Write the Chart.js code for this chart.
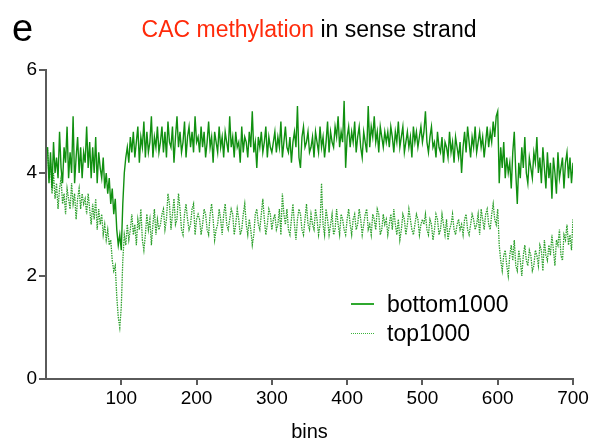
<!DOCTYPE html>
<html lang="en">
    <head>
        <meta charset="UTF-8">
        <title>CAC methylation</title>
        <style>
            body { margin: 0; background: #fff; font-family: "Liberation Sans", Arial, sans-serif; }
            #wrap { position: relative; width: 597px; height: 447px; }
            #panel { position: absolute; left: 12px; top: 7px; font-size: 38px; line-height: 1.117; color: #000; }
            #title { position: absolute; left: 0; width: 618px; top: 17px; text-align: center; font-size: 23px; line-height: 1.117; color: #000; }
            #title .red { color: #ff2a0a; }
            .leg { position: absolute; left: 387px; font-size: 23px; line-height: 1.117; color: #000; }
            .sample { position: absolute; left: 351px; width: 23px; height: 0; }
        </style>
    </head>
    <body>
        <div id="wrap">
            <canvas id="myChart" width="597" height="447"></canvas>
            <div id="panel">e</div>
            <div id="title"><span class="red">CAC methylation</span> in sense strand</div>
            <div class="sample" style="top:303px; border-top:2px solid #2fa82f"></div>
            <div class="leg" style="top:292px">bottom1000</div>
            <div class="sample" style="top:333px; border-top:1px dotted #3cb43c"></div>
            <div class="leg" style="top:321px">top1000</div>
        </div>
        <script src="https://cdn.jsdelivr.net/npm/chart.js@4.4.0/dist/chart.umd.min.js"></script>
        <script>
            // values every 2 bins (2, 4, ... 700)
            var bottom1000 = [
                4.5,3.8,4.4,3.7,4.6,4.0,4.3,3.9,4.8,4.1,3.8,4.5,4.2,4.9,3.9,4.4,4.0,5.1,3.8,4.3,4.7,4.0,4.5,3.9,4.4,
                4.2,4.9,4.1,4.6,3.9,4.5,4.0,4.7,3.8,4.4,4.1,3.9,4.3,3.7,4.0,3.6,3.9,3.4,3.7,3.2,3.5,2.9,2.6,2.8,2.5,
                3.4,4.0,4.3,4.5,4.2,4.7,4.4,4.8,4.3,4.6,4.9,4.2,4.7,4.5,5.0,4.3,4.8,4.4,4.6,5.1,4.3,4.7,4.5,4.9,4.4,
                4.6,4.9,4.4,4.8,4.3,5.0,4.6,4.5,4.9,4.2,4.7,5.1,4.5,4.8,4.4,4.6,5.0,4.3,4.7,4.9,4.5,4.8,4.4,5.1,4.6,
                4.7,4.4,4.9,4.5,4.8,4.3,4.6,5.0,4.5,4.7,4.2,4.8,4.6,4.4,4.9,4.5,4.7,4.3,4.8,4.6,4.4,5.1,4.5,4.7,4.3,
                4.8,4.5,4.6,4.2,4.9,4.4,4.7,4.6,4.3,4.8,4.5,5.2,4.4,4.6,4.1,4.7,4.5,4.8,4.4,4.6,4.9,4.3,4.7,4.5,4.4,
                4.6,4.8,4.4,4.7,4.5,5.0,4.3,4.6,4.9,4.5,4.4,4.7,4.2,4.6,4.8,4.5,5.3,4.3,4.1,4.7,4.9,4.5,4.6,4.8,4.4,
                4.5,4.7,4.3,4.8,4.6,4.4,4.9,4.5,4.7,4.3,4.6,5.0,4.4,4.8,4.6,4.5,4.9,4.7,5.1,4.5,4.8,4.6,5.4,4.1,4.7,
                4.9,4.5,4.8,4.6,5.0,4.4,4.7,4.9,4.5,4.3,4.8,4.6,4.4,5.3,4.5,4.9,4.7,5.1,4.6,4.8,4.4,4.9,4.7,4.5,4.8,
                4.6,4.8,4.5,4.9,4.7,4.4,4.8,4.6,5.0,4.5,4.7,4.9,4.4,4.6,4.8,4.5,4.7,4.3,4.9,4.6,4.8,4.5,4.7,4.9,4.6,
                4.8,5.2,4.6,4.4,4.7,4.9,4.5,4.6,4.3,4.8,4.5,4.4,4.7,4.2,4.6,4.5,4.3,4.8,4.4,4.6,4.2,4.7,4.5,4.3,4.6,
                4.0,4.5,4.8,4.4,4.9,4.6,4.3,4.7,4.5,4.9,4.4,4.6,4.8,4.5,4.7,4.3,4.6,4.9,4.5,4.8,4.6,5.0,4.7,5.1,5.2,
                3.8,4.5,4.1,4.6,3.9,4.3,4.0,4.2,3.7,4.4,4.8,4.0,3.4,4.2,3.9,4.5,4.1,4.7,4.0,3.8,4.3,4.1,3.9,4.4,4.2,
                4.7,4.0,4.3,3.8,4.5,4.1,3.7,4.4,3.9,4.2,3.5,4.3,4.0,3.6,4.4,3.9,4.1,4.3,3.7,4.2,4.4,3.9,4.3,3.8,4.2
            ];
            var top1000 = [
                4.5,3.9,4.2,3.6,4.0,3.5,3.8,3.3,3.7,3.9,3.4,3.6,3.2,3.7,3.5,3.3,3.8,3.4,3.6,3.1,3.5,3.7,3.3,3.6,3.4,
                3.5,3.2,3.6,3.3,3.0,3.4,3.1,3.5,2.9,3.3,3.0,3.2,2.8,3.0,2.7,2.9,2.6,2.7,2.3,2.1,2.2,1.6,1.2,1.0,1.4,
                2.3,2.8,2.6,3.0,2.7,2.9,3.2,2.8,3.0,2.6,3.1,2.9,3.3,2.7,2.5,2.8,3.2,2.9,3.1,2.6,3.0,3.3,2.8,3.1,2.9,
                3.0,3.2,3.3,2.9,3.1,3.6,3.4,2.9,3.2,3.5,3.0,3.1,3.6,3.3,2.9,2.8,3.2,3.4,3.1,2.9,3.0,3.3,3.4,2.8,3.1,
                3.2,3.1,2.8,3.0,3.3,3.2,2.9,2.8,3.2,3.4,3.1,2.7,2.9,3.0,3.3,3.1,2.8,3.2,3.4,3.0,2.9,3.1,3.3,3.2,2.8,
                3.0,3.3,3.1,2.8,2.9,3.2,3.4,3.0,2.8,3.1,2.9,2.6,2.8,3.2,3.3,3.0,2.9,3.2,3.5,3.1,2.8,3.0,3.3,3.2,2.9,
                3.1,3.2,2.9,3.0,3.3,2.8,3.6,3.2,3.0,3.3,2.9,2.8,3.1,3.4,3.0,2.7,3.1,3.3,3.2,2.9,2.8,3.1,3.4,3.0,2.9,
                3.2,3.0,2.9,3.3,3.1,2.8,3.0,3.8,3.0,2.8,3.3,3.1,2.8,3.0,3.2,2.8,2.9,3.3,3.0,2.8,3.2,3.1,2.9,2.8,3.1,
                3.3,3.0,2.8,3.1,3.2,2.9,3.0,3.3,3.1,2.8,3.0,3.2,3.3,2.9,3.0,2.8,3.2,3.1,2.9,3.3,3.2,2.8,2.9,3.2,3.0,
                3.1,2.8,3.0,3.2,2.9,3.3,3.0,2.8,3.1,2.7,2.9,3.2,3.1,2.8,3.0,3.3,3.1,2.9,2.8,3.0,3.2,3.1,2.8,3.0,3.1,
                3.0,3.2,2.9,2.8,3.1,3.0,2.7,2.9,3.2,3.1,2.8,2.9,3.2,3.0,2.8,3.1,2.7,2.9,3.0,3.2,2.9,2.8,3.0,3.1,2.9,
                3.0,2.8,3.1,3.2,2.9,2.8,3.0,3.2,3.1,2.9,3.0,3.2,2.8,3.3,3.1,2.9,3.2,3.3,3.0,2.9,3.2,3.4,3.1,3.0,3.3,
                2.6,2.3,2.1,2.4,2.5,2.2,2.0,2.4,2.6,2.3,2.7,2.2,2.1,2.5,2.3,2.0,2.4,2.6,2.3,2.2,2.5,2.4,2.1,2.2,2.5,
                2.4,2.2,2.6,2.5,2.1,2.7,2.4,2.3,2.6,2.4,2.8,2.5,2.2,2.7,2.6,2.9,2.4,2.3,2.8,2.7,3.0,2.6,2.8,2.5,3.1
            ];
            var bins = bottom1000.map(function (v, i) { return (i + 1) * 2; });
            var xTicks = [0, 100, 200, 300, 400, 500, 600, 700];
            var yTicks = [0, 2, 4, 6];

            function pts(arr) {
                return arr.map(function (v, i) { return { x: bins[i], y: v }; });
            }

            var axisColor = '#5a5a5a';
            var ctx = document.getElementById('myChart').getContext('2d');
            new Chart(ctx, {
                type: 'line',
                data: {
                    datasets: [{
                        label: 'bottom1000',
                        data: pts(bottom1000),
                        borderColor: '#109010',
                        borderWidth: 1.4,
                        pointRadius: 0,
                        tension: 0
                    }, {
                        label: 'top1000',
                        data: pts(top1000),
                        borderColor: '#2ca02c',
                        borderWidth: 1.3,
                        borderDash: [1.5, 1],
                        pointRadius: 0,
                        tension: 0
                    }]
                },
                options: {
                    responsive: false,
                    animation: false,
                    layout: { padding: { top: 70, right: 24, left: 0, bottom: 0 } },
                    plugins: { legend: { display: false }, tooltip: { enabled: false } },
                    scales: {
                        x: {
                            type: 'linear', min: 0, max: 700,
                            afterBuildTicks: function (s) { s.ticks = xTicks.map(function (v) { return { value: v }; }); },
                            afterFit: function (s) { s.height = 68; },
                            ticks: {
                                color: '#000', font: { family: 'Liberation Sans', size: 19 }, padding: 2,
                                callback: function (v) { return v === 0 ? '' : v; }
                            },
                            grid: {
                                drawOnChartArea: false, tickLength: 6, lineWidth: 2,
                                color: function (c) { return c.tick && c.tick.value === 0 ? 'rgba(0,0,0,0)' : axisColor; }
                            },
                            border: { color: axisColor, width: 2 },
                            title: { display: true, text: 'bins', color: '#000', font: { family: 'Liberation Sans', size: 20 }, padding: { top: 4, bottom: 3 } }
                        },
                        y: {
                            min: 0, max: 6,
                            afterBuildTicks: function (s) { s.ticks = yTicks.map(function (v) { return { value: v }; }); },
                            afterFit: function (s) { s.width = 46; },
                            ticks: { color: '#000', font: { family: 'Liberation Sans', size: 19 }, padding: 2 },
                            grid: { drawOnChartArea: false, tickLength: 7, lineWidth: 2, color: axisColor },
                            border: { color: axisColor, width: 2 }
                        }
                    }
                }
            });
        </script>
    </body>
</html>
